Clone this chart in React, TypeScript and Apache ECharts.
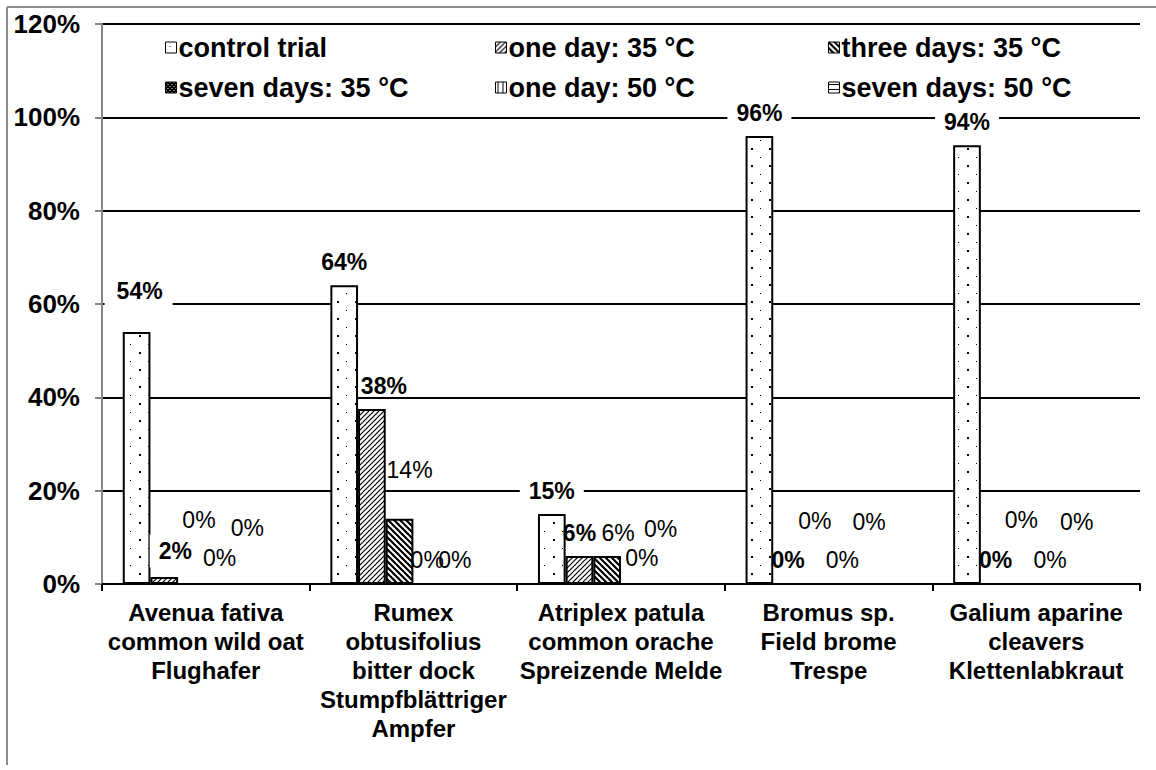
import React, { useEffect, useRef } from "react";
import * as echarts from "echarts";

// Weed species (Latin / English / German)
const categories = [
  "Avenua fativa\ncommon wild oat\nFlughafer",
  "Rumex\nobtusifolius\nbitter dock\nStumpfblättriger\nAmpfer",
  "Atriplex patula\ncommon orache\nSpreizende Melde",
  "Bromus sp.\nField brome\nTrespe",
  "Galium aparine\ncleavers\nKlettenlabkraut",
];

const seriesNames = [
  "control trial",
  "one day: 35 °C",
  "three days: 35 °C",
  "seven days: 35 °C",
  "one day: 50 °C",
  "seven days: 50 °C",
];

// Germination rate in percent
const controlTrial = [54, 64, 15, 96, 94];
const oneDay35 = [1.5, 37.5, 6, 0, 0];
const threeDays35 = [0, 14, 6, 0, 0];
const sevenDays35 = [0, 0, 0, 0, 0];
const oneDay50 = [0, 0, 0, 0, 0];
const sevenDays50 = [0, 0, 0, 0, 0];

const yMax = 120;
const yStep = 20;

const FONT = "'Liberation Sans', Arial, sans-serif";

// Hand-placed data label nudges [dx, dy] per series / category
const labelNudge: ([number, number][] | null)[] = [
  [[2, -18], [0, 0], [0, 0], [0, 0], [0, 0]],
  [[11, -3], [12, 0], [0, 0], [1, 0], [1, 0]],
  [[7, -40], [10, -26], [11, 0], [0, -39], [-1, -40]],
  [[0, -2], [0, 0], [7, -2], [0, 0], [0, 0]],
  [[0, -32], [0, 0], [-2, -31], [-1, -38], [-1, -38]],
  null,
];
// Labels drawn on an opaque white box
const labelBoxed: boolean[][] = [
  [true, true, true, true, true],
  [true, false, false, false, false],
  [false, false, false, false, false],
  [false, false, false, false, false],
  [false, false, false, false, false],
  [false, false, false, false, false],
];
const boldSeries = [true, true, false, false, false, false];

type Draw = (ctx: CanvasRenderingContext2D) => void;

function tile(w: number, h: number, draw: Draw) {
  const c = document.createElement("canvas");
  c.width = w;
  c.height = h;
  const ctx = c.getContext("2d") as CanvasRenderingContext2D;
  ctx.fillStyle = "#fff";
  ctx.fillRect(0, 0, w, h);
  ctx.fillStyle = "#000";
  ctx.strokeStyle = "#000";
  draw(ctx);
  return { image: c, repeat: "repeat", imageWidth: w, imageHeight: h } as any;
}

function diagonal(ctx: CanvasRenderingContext2D, s: number, lw: number, forward: boolean) {
  ctx.lineWidth = lw;
  ctx.beginPath();
  for (let k = -1; k <= 1; k++) {
    if (forward) {
      ctx.moveTo(k * s - 1, s + 1);
      ctx.lineTo(k * s + s + 1, -1);
    } else {
      ctx.moveTo(k * s - 1, -1);
      ctx.lineTo(k * s + s + 1, s + 1);
    }
  }
  ctx.stroke();
}

function makePatterns() {
  return [
    // sparse dots
    tile(18, 17, (ctx) => {
      ctx.fillRect(4, 4, 1, 1);
      ctx.fillRect(13, 12, 2, 2);
    }),
    // light forward hatch
    tile(5, 5, (ctx) => diagonal(ctx, 5, 1.2, true)),
    // bold backward hatch
    tile(6, 6, (ctx) => diagonal(ctx, 6, 2.2, false)),
    // dark checker
    tile(4, 4, (ctx) => {
      ctx.fillRect(0, 0, 4, 4);
      ctx.fillStyle = "#fff";
      ctx.fillRect(0, 0, 1, 1);
      ctx.fillRect(2, 2, 1, 1);
    }),
    // vertical lines
    tile(5, 5, (ctx) => ctx.fillRect(2, 0, 1, 5)),
    // horizontal lines
    tile(5, 5, (ctx) => ctx.fillRect(0, 2, 5, 1)),
  ];
}

export default function App() {
  const ref = useRef<HTMLDivElement>(null);

  useEffect(() => {
    if (!ref.current) return;
    const chart = echarts.init(ref.current, null, { renderer: "svg" });
    const patterns = makePatterns();
    const values = [controlTrial, oneDay35, threeDays35, sevenDays35, oneDay50, sevenDays50];

    const legendCols = [165, 495, 828];
    const legendRows = [34, 74];

    const series = values.map((vals, si) => {
      const nudge = labelNudge[si];
      return {
        name: seriesNames[si],
        type: "bar",
        barGap: "0%",
        barCategoryGap: "20%",
        itemStyle: { color: patterns[si], borderColor: "#000", borderWidth: 2 },
        label: {
          show: !!nudge,
          position: "top",
          distance: 6.5,
          fontFamily: FONT,
          fontSize: 23,
          fontWeight: boldSeries[si] ? "bold" : "normal",
          color: "#000",
          padding: [5, 9],
          formatter: (p: any) => Math.round(p.value) + "%",
        },
        data: vals.map((v, ci) => {
          if (!nudge) return v;
          const boxed = labelBoxed[si][ci];
          const lbl: any = { offset: nudge[ci] };
          if (boxed) lbl.backgroundColor = "#fff";
          if (si === 0 && ci === 0) lbl.padding = [5, 10, 5, 12];
          return { value: v, label: lbl };
        }),
      };
    });

    chart.setOption({
      animation: false,
      backgroundColor: "#fff",
      textStyle: { fontFamily: FONT },
      grid: { left: 102, right: 16, top: 24, bottom: 186, containLabel: false },
      legend: seriesNames.map((name, i) => ({
        data: [name],
        left: legendCols[i % 3],
        top: legendRows[Math.floor(i / 3)],
        padding: 0,
        itemWidth: 11,
        itemHeight: 11,
        selectedMode: false,
        icon: "rect",
        itemStyle: { borderWidth: 1 },
        textStyle: { fontFamily: FONT, fontSize: 27, fontWeight: "bold", color: "#000", padding: [0, 0, 0, -3] },
      })),
      xAxis: {
        type: "category",
        data: categories,
        axisLine: { lineStyle: { color: "#000", width: 2 } },
        axisTick: { show: true, length: 7, alignWithLabel: false, lineStyle: { color: "#000", width: 2 } },
        axisLabel: {
          interval: 0,
          fontFamily: FONT,
          fontSize: 24,
          fontWeight: "bold",
          lineHeight: 29,
          color: "#000",
          margin: 14,
        },
        splitLine: { show: false },
      },
      yAxis: {
        type: "value",
        min: 0,
        max: yMax,
        interval: yStep,
        axisLine: { show: true, lineStyle: { color: "#868686", width: 2 } },
        axisTick: { show: true, length: 7, lineStyle: { color: "#868686", width: 2 } },
        axisLabel: {
          formatter: "{value}%",
          fontFamily: FONT,
          fontSize: 26,
          fontWeight: "bold",
          color: "#000",
          margin: 22,
        },
        splitLine: { show: true, lineStyle: { color: "#000", width: 2 } },
      },
      graphic: [
        { type: "line", shape: { x1: 7, y1: 7, x2: 7, y2: 765 }, style: { stroke: "#8c8c8c", lineWidth: 2 }, silent: true },
        { type: "line", shape: { x1: 7, y1: 7, x2: 1156, y2: 7 }, style: { stroke: "#8c8c8c", lineWidth: 2 }, silent: true },
      ],
      series,
    });

    return () => chart.dispose();
  }, []);

  return (
    <div
      ref={ref}
      style={{ position: "absolute", left: 0, top: 0, width: 1156, height: 770 }}
    />
  );
}
